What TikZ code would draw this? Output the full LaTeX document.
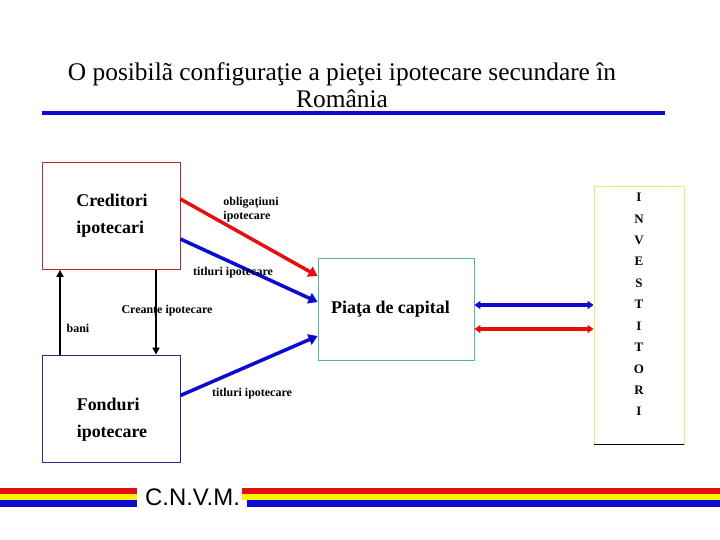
\documentclass[tikz,border=0pt]{standalone}
\usepackage{fontspec}
\setmainfont{Liberation Serif}
\newfontfamily\logofont{Liberation Sans}
\usepackage{tikz}
\usetikzlibrary{calc, positioning, arrows.meta}

\definecolor{credred}{RGB}{190,40,50}
\definecolor{fondblue}{RGB}{40,40,140}
\definecolor{pietal}{RGB}{80,180,170}
\definecolor{invyel}{RGB}{240,235,110}
\definecolor{arrred}{RGB}{230,15,15}
\definecolor{arrblue}{RGB}{10,10,210}
\definecolor{stripyel}{RGB}{255,240,0}

\begin{document}
\begin{tikzpicture}[x=1bp, y=-1bp,
    box/.style={draw, line width=0.8bp, minimum width=138bp, minimum height=107bp, inner sep=0pt},
    boxtext/.style={font=\fontsize{18}{27}\selectfont\bfseries, align=left},
    lbl/.style={font=\fontsize{12}{14}\selectfont\bfseries, inner sep=0pt},
    fat/.style={line width=3.5bp, -{Triangle[length=9bp, width=11bp]}},
    both/.style={line width=3.5bp, {Triangle[length=6bp, width=8bp]}-{Triangle[length=6bp, width=8bp]}},
    thin/.style={line width=2.2bp, -{Triangle[length=7bp, width=7bp]}}]
    \useasboundingbox (0,0) rectangle (720,540);
    % Title and line under it
    \node[font=\fontsize{25.5}{27}\selectfont, align=center] (title) at (342,85) {O posibilã configuraţie a pieţei ipotecare secundare în\\România};
    \coordinate (tl) at (42,113);
    \coordinate (tr) at (665,113);
    \draw[arrblue, line width=4bp] (tl) -- (tr);
    % The four boxes
    \node[box, draw=credred] (cred) at (111,216) {};
    \node[boxtext] at (112,216) {Creditori\\ipotecari};
    \node[box, draw=fondblue] (fond) at (111,408.5) {};
    \node[boxtext] at (112,420) {Fonduri\\ipotecare};
    \node[box, draw=pietal, minimum width=156bp, minimum height=102bp] (piata) at (396,309) {};
    \node[font=\fontsize{18}{20}\selectfont\bfseries] at (390.5,309) {Piaţa de capital};
    \node[box, draw=invyel, minimum width=90bp, minimum height=258bp] (inv) at (639,315) {};
    \draw[line width=0.8bp] (inv.south west) -- (inv.south east);
    \node[font=\fontsize{13}{21.5}\selectfont\bfseries, align=center] at (639,304.5) {I\\N\\V\\E\\S\\T\\I\\T\\O\\R\\I};
    % Flows to the market
    \draw[fat, arrred] ($(cred.east)+(0,-17)$) -- ($(piata.west)+(0,-33)$);
    \draw[fat, arrblue] ($(cred.east)+(0,23)$) -- ($(piata.west)+(0,-7)$);
    \draw[fat, arrblue] ($(fond.east)+(0,-13)$) -- ($(piata.west)+(0,27)$);
    \node[lbl, align=left] at (251,210) {obligaţiuni\\ipotecare};
    \node[lbl] at (233,273) {titluri ipotecare};
    \node[lbl] at (252,394) {titluri ipotecare};
    % Between creditors and funds
    \draw[thin] ($(fond.north)+(-51,0)$) -- ($(cred.south)+(-51,0)$);
    \draw[thin] ($(cred.south)+(45,0)$) -- ($(fond.north)+(45,0)$);
    \node[lbl] at (78,328) {bani};
    \node[lbl] at (167,311) {Creanţe ipotecare};
    % Market and investors
    \draw[both, arrblue] ($(piata.east)+(0,-4)$) -- ($(inv.west)+(0,-10)$);
    \draw[both, arrred] ($(piata.east)+(0,20)$) -- ($(inv.west)+(0,14)$);
    % Stripes at the bottom
    \fill[arrred] (0,488) rectangle (137,494);
    \fill[stripyel] (0,494) rectangle (137,500);
    \fill[arrblue] (0,500) rectangle (137,507);
    \fill[arrred] (242,488) rectangle (720,494);
    \fill[stripyel] (242,494) rectangle (720,500);
    \fill[arrblue] (247,500) rectangle (720,507);
    \node[font=\logofont\fontsize{24}{26}\selectfont] (cnvm) at (192.5,497) {C.N.V.M.};
\end{tikzpicture}
\end{document}
